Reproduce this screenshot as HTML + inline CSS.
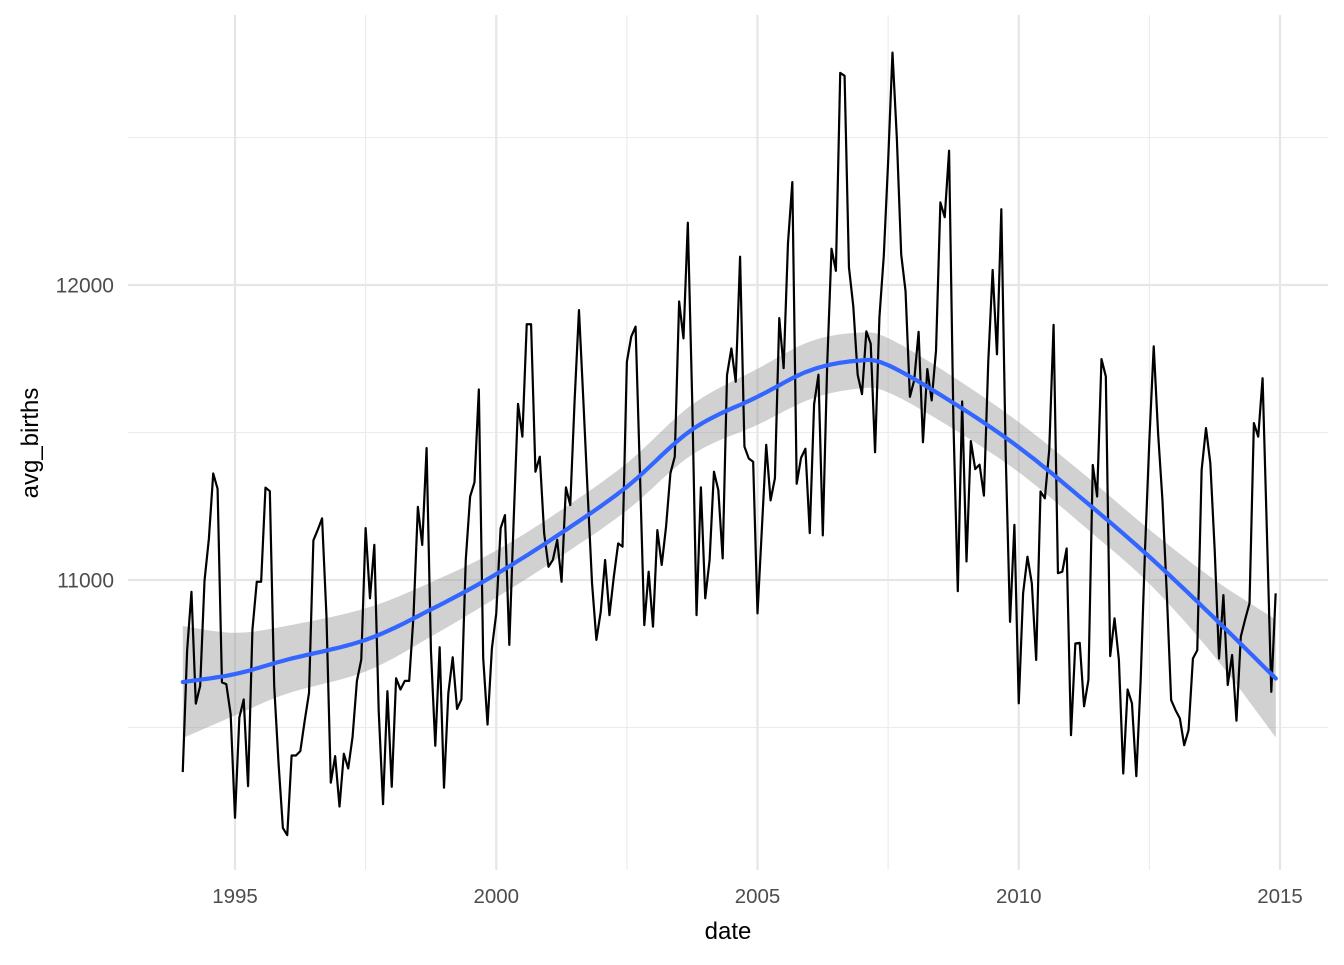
<!DOCTYPE html>
<html><head><meta charset="utf-8"><style>
html,body{margin:0;padding:0;background:#fff;}
svg text{font-family:"Liberation Sans",Arial,sans-serif;}
</style></head><body>
<svg id="chart" width="1344" height="960" viewBox="0 0 1344 960" xmlns="http://www.w3.org/2000/svg">
<g id="grid"></g>
<g id="band"></g>
<g id="series"></g>
<g id="axes"></g>
<text x="728" y="939" text-anchor="middle" font-size="24" fill="#000">date</text>
<text transform="translate(38,443) rotate(-90)" text-anchor="middle" font-size="24" fill="#000">avg_births</text>
</svg>
<script>
const startYear = 1994;
const births = [
10349,10760,10960,10581,10641,10998,11140,11361,11309,10653,10647,10545,
10194,10534,10595,10301,10831,10994,10994,11313,11301,10641,10379,10159,
10135,10405,10405,10420,10522,10617,11134,11170,11209,10879,10313,10403,
10232,10411,10361,10468,10658,10730,11176,10938,11119,10557,10240,10623,
10299,10667,10629,10658,10658,10879,11248,11119,11447,10760,10438,10772,
10296,10617,10738,10563,10595,11069,11283,11331,11646,10736,10510,10768,
10887,11175,11220,10780,11203,11597,11486,11867,11867,11367,11418,11158,
11045,11068,11136,10994,11314,11254,11610,11915,11610,11294,10989,10797,
10893,11068,10881,11011,11124,11113,11740,11825,11859,11362,10847,11028,
10842,11169,11051,11181,11362,11418,11944,11819,12211,11610,10881,11314,
10938,11068,11367,11305,11073,11695,11785,11672,12096,11452,11412,11401,
10887,11172,11458,11270,11345,11888,11718,12142,12349,11326,11414,11445,
11159,11596,11696,11151,11728,12123,12048,12719,12709,12060,11928,11696,
11630,11843,11801,11433,11891,12098,12418,12788,12499,12104,11979,11621,
11678,11841,11467,11715,11609,11778,12280,12230,12455,11533,10962,11605,
11063,11471,11376,11391,11286,11740,12051,11765,12257,11427,10858,11187,
10582,10955,11079,10989,10729,11300,11277,11441,11865,11023,11028,11107,
10474,10785,10787,10572,10661,11390,11283,11749,11690,10742,10870,10729,
10344,10629,10582,10335,10661,11102,11475,11792,11498,11271,10955,10593,
10559,10531,10440,10491,10734,10762,11373,11515,11396,11102,10734,10949,
10644,10746,10523,10808,10867,10921,11532,11486,11684,11158,10621,10955
];
const smoothYears = [1994.0,1995,1996,1997.5,1998.75,2000,2001.25,2002.5,2003.75,2005,2006,2006.9,2007.5,2008.75,2010,2011.25,2012.5,2013.75,2014.92];
const smoothVals  = [10654,10681,10730,10797,10900,11020,11160,11316,11510,11621,11710,11743,11728,11600,11450,11270,11079,10870,10666];
const smoothSE    = [190,140,115,107,92,80,78,80,85,95,98,95,92,88,85,88,92,130,200];
const xTicks = [1995,2000,2005,2010,2015];
const xMinor = [1997.5,2002.5,2007.5,2012.5];
const yTicks = [11000,12000];
const yMinor = [10500,11500,12500];

const NS="http://www.w3.org/2000/svg";
const PX0=128,PX1=1328,PY0=15,PY1=870;
const xs = yr => 235 + (yr-1995)*52.25;
const ys = v => 285 + (12000-v)*0.295;
function mk(tag,attrs,parent){const e=document.createElementNS(NS,tag);for(const k in attrs)e.setAttribute(k,attrs[k]);parent.appendChild(e);return e;}
const grid=document.getElementById('grid'),axes=document.getElementById('axes'),band=document.getElementById('band'),series=document.getElementById('series');

yMinor.forEach(v=>{const l=mk('line',{x1:PX0,x2:PX1,y1:ys(v),y2:ys(v),stroke:'#ebebeb','stroke-width':1.1},grid);

});
xMinor.forEach(v=>{const l=mk('line',{x1:xs(v),x2:xs(v),y1:PY0,y2:PY1,stroke:'#ebebeb','stroke-width':1.1},grid);

});
yTicks.forEach(v=>{const l=mk('line',{x1:PX0,x2:PX1,y1:ys(v),y2:ys(v),stroke:'#e6e6e6','stroke-width':2.2},grid);


const t=mk('text',{x:114,y:ys(v)+7.5,'text-anchor':'end','font-size':21,fill:'#4d4d4d'},axes);t.textContent=v;

});
xTicks.forEach(v=>{const l=mk('line',{x1:xs(v),x2:xs(v),y1:PY0,y2:PY1,stroke:'#e6e6e6','stroke-width':2.2},grid);


const t=mk('text',{x:xs(v),y:903,'text-anchor':'middle','font-size':20.5,fill:'#4d4d4d'},axes);t.textContent=v;

});

function sample(vals){const out=[];const n=smoothYears.length;
 for(let i=0;i<n-1;i++){const p0=i>0?i-1:i,p3=i+2<n?i+2:i+1;
  for(let s=0;s<12;s++){const t=s/12;
   const f=(a,b,c,d)=>0.5*((2*b)+(-a+c)*t+(2*a-5*b+4*c-d)*t*t+(-a+3*b-3*c+d)*t*t*t);
   out.push([f(smoothYears[p0],smoothYears[i],smoothYears[i+1],smoothYears[p3]),f(vals[p0],vals[i],vals[i+1],vals[p3])]);}}
 out.push([smoothYears[n-1],vals[n-1]]);return out;}
const mid=sample(smoothVals), se=sample(smoothSE);
const up=mid.map((p,i)=>[p[0],p[1]+se[i][1]]), lo=mid.map((p,i)=>[p[0],p[1]-se[i][1]]);
let bd='M'+up.map(p=>xs(p[0]).toFixed(1)+','+ys(p[1]).toFixed(1)).join('L')+'L'+lo.slice().reverse().map(p=>xs(p[0]).toFixed(1)+','+ys(p[1]).toFixed(1)).join('L')+'Z';
const bp=mk('path',{d:bd,fill:'#999999','fill-opacity':0.45,stroke:'none'},band);



const ld='M'+births.map((v,i)=>xs(startYear+i/12).toFixed(2)+','+ys(v).toFixed(2)).join('L');
const lp=mk('path',{d:ld,fill:'none',stroke:'#000','stroke-width':2.2,'stroke-linejoin':'round'},series);



const sd='M'+mid.map(p=>xs(p[0]).toFixed(1)+','+ys(p[1]).toFixed(1)).join('L');
const sp=mk('path',{d:sd,fill:'none',stroke:'#3366FF','stroke-width':4.2,'stroke-linecap':'round'},series);


</script>
</body></html>
